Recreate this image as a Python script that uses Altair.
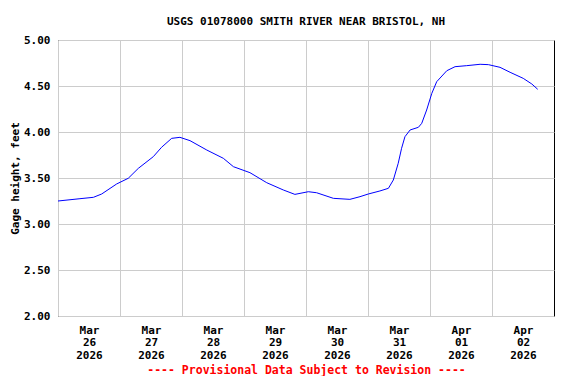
import altair as alt
import pandas as pd

# hours after 2026-03-26 00:00 and gage height (feet)
hours = [0, 8.5, 13.7, 16.9, 22.7, 27.2, 31.1, 36.9, 40.1, 44.0, 47.2, 51.1, 57.6, 64.0,
         67.9, 74.3, 80.8, 87.2, 91.7, 96.9, 100.1, 106.6, 113.0, 116.9, 120.1, 124.6,
         127.9, 129.8, 131.7, 133.0, 134.3, 136.3, 139.5, 140.8, 142.7, 144.7, 146.6,
         150.5, 153.7, 158.2, 163.4, 166.6, 171.1, 175.0, 180.1, 183.4, 185.7]
gage_ft = [3.25, 3.275, 3.29, 3.326, 3.435, 3.497, 3.605, 3.732, 3.834, 3.931, 3.942,
           3.906, 3.804, 3.714, 3.623, 3.558, 3.449, 3.37, 3.322, 3.351, 3.34, 3.279,
           3.268, 3.297, 3.326, 3.359, 3.388, 3.478, 3.66, 3.823, 3.949, 4.022, 4.051,
           4.094, 4.239, 4.42, 4.547, 4.666, 4.71, 4.721, 4.736, 4.732, 4.703, 4.649,
           4.583, 4.522, 4.464]
tick_days = ["2026-03-26", "2026-03-27", "2026-03-28", "2026-03-29",
             "2026-03-30", "2026-03-31", "2026-04-01", "2026-04-02"]
y_ticks = [2.0, 2.5, 3.0, 3.5, 4.0, 4.5, 5.0]

base = pd.Timestamp("2026-03-26T00:00:00")
times = [(base + pd.Timedelta(hours=h)).strftime("%Y-%m-%dT%H:%M:%SZ") for h in hours]
df = pd.DataFrame({"time": times, "gage": gage_ft})

def dt(s):
    return alt.DateTime(year=int(s[0:4]), month=int(s[5:7]), date=int(s[8:10]), utc=True)

tick_values = [dt(d) for d in tick_days]
FONT = "DejaVu Sans Mono"

chart = alt.Chart(df).mark_line(color="#0000ff", strokeWidth=1).encode(
    x=alt.X(
        "time:T",
        scale=alt.Scale(type="utc", domain=[dt("2026-03-26"), dt("2026-04-03")]),
        axis=alt.Axis(
            values=tick_values,
            labelExpr="[utcFormat(datum.value,'%b'), utcFormat(datum.value,'%d'), utcFormat(datum.value,'%Y')]",
            labelOffset=31, ticks=False, domain=False, labelPadding=8,
            labelBaseline="top", labelLineHeight=12.5, labelAlign="center",
            labelFlush=False, labelOverlap=False,
            labelFont=FONT, labelFontSize=11, labelFontWeight="bold", labelColor="black",
            title="---- Provisional Data Subject to Revision ----",
            titleColor="red", titleFont=FONT, titleFontSize=11.5, titleFontWeight="bold",
            titleX=248, titleY=54, titleBaseline="middle", titleAnchor="middle",
            gridColor="#cccccc", gridWidth=1,
        ),
    ),
    y=alt.Y(
        "gage:Q",
        scale=alt.Scale(domain=[2, 5], nice=False, zero=False),
        axis=alt.Axis(
            values=y_ticks, format=".2f", ticks=False, domain=False, labelPadding=8,
            labelFont=FONT, labelFontSize=11, labelFontWeight="bold", labelColor="black",
            title="Gage height, feet", titleFont=FONT, titleFontSize=11,
            titleFontWeight="bold", titleColor="black",
            titleX=-43, titleY=138, titleBaseline="middle", titleAngle=-90,
            titleAnchor="middle", titleAlign="center",
            gridColor="#cccccc", gridWidth=1,
        ),
    ),
).properties(
    width=496, height=276,
    autosize="none",
    padding={"left": 50, "top": 32, "right": 10, "bottom": 60},
    title=alt.TitleParams(
        "USGS 01078000 SMITH RIVER NEAR BRISTOL, NH",
        font=FONT, fontSize=11, fontWeight="bold", color="black",
        anchor="middle", offset=7,
    ),
).configure_view(stroke="black", strokeWidth=1)

chart.save("out.html", embed_options={"renderer": "svg", "actions": False})
